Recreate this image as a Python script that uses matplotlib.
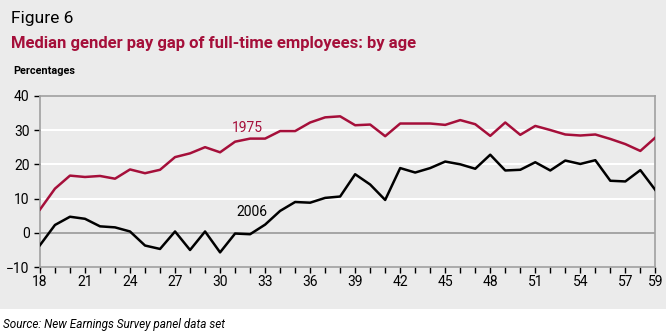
import matplotlib.pyplot as plt
from matplotlib.patches import Rectangle

ages = list(range(18, 60))
gap_1975 = [6.8, 12.9, 16.7, 16.3, 16.6, 15.8, 18.5, 17.4, 18.4, 22.1,
            23.2, 25.0, 23.5, 26.6, 27.5, 27.5, 29.7, 29.7, 32.2, 33.7,
            34.0, 31.4, 31.6, 28.2, 31.9, 31.9, 31.9, 31.5, 32.9, 31.7,
            28.3, 32.2, 28.6, 31.2, 30.0, 28.7, 28.4, 28.7, 27.4, 25.9,
            23.9, 27.8]
gap_2006 = [-3.6, 2.3, 4.7, 4.1, 1.9, 1.6, 0.4, -3.7, -4.7, 0.4,
            -5.0, 0.4, -5.7, -0.2, -0.4, 2.4, 6.4, 9.0, 8.8, 10.2,
            10.6, 17.1, 14.1, 9.6, 18.9, 17.6, 18.9, 20.8, 20.0, 18.7,
            22.8, 18.2, 18.4, 20.6, 18.2, 21.1, 20.1, 21.2, 15.2, 15.0,
            18.3, 12.5]
xtick_labels = [18, 21, 24, 27, 30, 33, 36, 39, 42, 45, 48, 51, 54, 57, 59]
yticks = [-10, 0, 10, 20, 30, 40]

red = '#a50f3a'
bg = '#ebebeb'
plt.rcParams['font.family'] = ['Roboto', 'DejaVu Sans']

fig = plt.figure(figsize=(6.66, 3.36), dpi=100)
fig.patches.append(Rectangle((0, 0.08), 1, 0.92, transform=fig.transFigure,
                             facecolor=bg, edgecolor='none', zorder=-10))

ax = fig.add_axes([0.060, 0.205, 0.924, 0.510])
ax.set_facecolor(bg)

for v in [10, 20, 30]:
    ax.axhline(v, color='white', linewidth=1.5, zorder=1)
ax.axhline(0, color='#999999', linewidth=1.2, zorder=1)

ax.plot(ages, gap_1975, color=red, linewidth=1.8, zorder=3)
ax.plot(ages, gap_2006, color='black', linewidth=1.8, zorder=3)

ax.text(31.8, 30.6, '1975', color=red, fontsize=10, ha='center', va='center')
ax.text(32.1, 6.1, '2006', color='black', fontsize=10, ha='center', va='center')

ax.set_xlim(18, 59)
ax.set_ylim(-10, 40)
ax.set_xticks(ages, minor=True)
ax.set_xticks(xtick_labels)
ax.set_yticks(yticks)
ax.set_yticklabels(['\u221210' if v < 0 else str(v) for v in yticks])
ax.tick_params(axis='both', which='both', direction='out', color='black',
               labelsize=10, length=4, width=1)
ax.tick_params(axis='x', pad=2)

for s in ax.spines.values():
    s.set_color('#a0a0a0')
    s.set_linewidth(1.2)

fig.text(0.017, 0.945, 'Figure 6', fontsize=12.5, va='center', ha='left')
fig.text(0.016, 0.870, 'Median gender pay gap of full-time employees: by age',
         fontsize=12, fontweight='bold', color=red, va='center', ha='left')
fig.text(0.020, 0.79, 'Percentages', fontsize=7.8, fontweight='bold',
         va='center', ha='left')
fig.text(0.004, 0.035, 'Source: New Earnings Survey panel data set',
         fontsize=8.5, style='italic', va='center', ha='left')

fig.savefig('out.png', dpi=100)
